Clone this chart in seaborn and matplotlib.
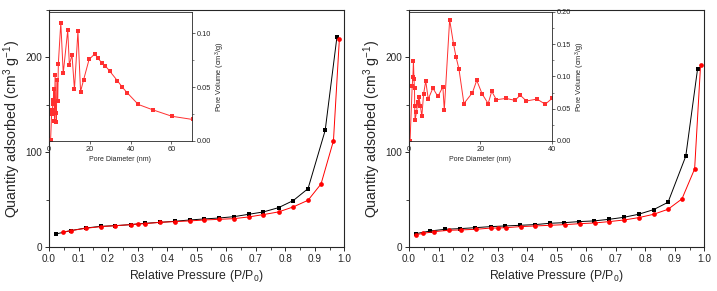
import matplotlib
matplotlib.use("Agg")
import matplotlib.pyplot as plt
import seaborn as sns
from matplotlib.ticker import MultipleLocator, FormatStrFormatter

# left sample: isotherm
p_ads_a = [0.023, 0.074, 0.124, 0.175, 0.225, 0.276, 0.325, 0.375, 0.425, 0.476,
           0.526, 0.576, 0.626, 0.676, 0.726, 0.777, 0.827, 0.877, 0.935, 0.975]
q_ads_a = [13.7, 17.3, 20.0, 21.8, 22.5, 23.6, 25.0, 26.0, 27.1, 28.5,
           29.6, 30.6, 32.0, 34.5, 37.0, 41.5, 49.0, 61.6, 123.0, 222.0]
p_des_a = [0.048, 0.074, 0.124, 0.175, 0.225, 0.276, 0.300, 0.325, 0.375, 0.425,
           0.476, 0.526, 0.576, 0.626, 0.676, 0.726, 0.777, 0.827, 0.877, 0.921,
           0.963, 0.983]
q_des_a = [15.8, 17.3, 19.7, 21.5, 22.5, 23.6, 24.3, 24.6, 26.0, 26.8,
           27.5, 28.5, 29.2, 29.9, 31.7, 34.2, 37.0, 42.3, 49.3, 66.5,
           112.0, 219.0]

# left sample: pore size distribution
d_a = [0.8, 1.3, 1.6, 1.9, 2.1, 2.5, 2.7, 3.0, 3.3, 3.6, 3.9, 4.3, 4.6,
       5.8, 7.0, 9.2, 10.0, 11.3, 12.5, 14.2, 15.5, 17.0, 19.7, 22.5, 24.0,
       25.8, 27.6, 29.8, 33.6, 36.0, 38.3, 43.8, 50.9, 60.3, 70.5]
v_a = [0.001, 0.025, 0.029, 0.034, 0.038, 0.048, 0.019, 0.061, 0.026, 0.018,
       0.057, 0.037, 0.072, 0.110, 0.063, 0.103, 0.071, 0.080, 0.048, 0.102,
       0.046, 0.057, 0.076, 0.081, 0.077, 0.073, 0.070, 0.065, 0.056, 0.050,
       0.045, 0.034, 0.029, 0.023, 0.020]

# right sample: isotherm
p_ads_b = [0.024, 0.072, 0.123, 0.174, 0.225, 0.276, 0.326, 0.376, 0.426, 0.476,
           0.526, 0.576, 0.626, 0.677, 0.727, 0.777, 0.828, 0.877, 0.937, 0.977]
q_ads_b = [14.1, 16.9, 18.7, 19.4, 20.4, 21.5, 22.2, 22.9, 23.6, 25.0,
           25.7, 26.8, 27.5, 29.2, 31.3, 34.5, 39.4, 47.2, 95.8, 188.0]
p_des_b = [0.024, 0.049, 0.085, 0.134, 0.176, 0.227, 0.278, 0.300, 0.328, 0.378,
           0.428, 0.478, 0.528, 0.578, 0.630, 0.678, 0.728, 0.778, 0.828, 0.877,
           0.924, 0.967, 0.987]
q_des_b = [13.0, 14.4, 16.2, 17.6, 18.0, 18.7, 20.0, 20.0, 20.4, 21.5,
           22.2, 22.9, 23.6, 24.6, 25.4, 26.8, 28.5, 31.0, 34.5, 39.8,
           50.7, 82.4, 191.5]

# right sample: pore size distribution
d_b = [0.3, 0.9, 1.1, 1.25, 1.4, 1.55, 1.6, 1.7, 2.1, 2.5, 2.8, 3.2, 3.6,
       4.1, 4.7, 5.4, 6.7, 8.1, 9.5, 9.9, 11.4, 12.5, 13.2, 14.0, 15.4,
       17.8, 19.0, 20.5, 22.2, 23.2, 24.5, 27.2, 29.7, 31.2, 32.9, 35.9,
       38.2, 40.1]
v_b = [0.0, 0.085, 0.099, 0.124, 0.096, 0.082, 0.055, 0.032, 0.045, 0.061,
       0.068, 0.055, 0.038, 0.073, 0.093, 0.065, 0.082, 0.069, 0.084, 0.048,
       0.188, 0.150, 0.130, 0.112, 0.058, 0.075, 0.094, 0.073, 0.058, 0.077,
       0.064, 0.066, 0.063, 0.071, 0.062, 0.065, 0.057, 0.066]

sns.set_style("ticks")
plt.rcParams["font.family"] = ["Liberation Sans", "DejaVu Sans"]
plt.rcParams["mathtext.fontset"] = "custom"
plt.rcParams["mathtext.rm"] = "Liberation Sans"
plt.rcParams["mathtext.it"] = "Liberation Sans"

fig = plt.figure(figsize=(7.17, 2.91), dpi=100)

panels = [
    (p_ads_a, q_ads_a, p_des_a, q_des_a, d_a, v_a, 0.0683, 70, 0.12, [0, 20, 40, 60], 0.05),
    (p_ads_b, q_ads_b, p_des_b, q_des_b, d_b, v_b, 0.5704, 40, 0.20, [0, 20, 40], 0.05),
]

for pa, qa, pd_, qd, d, v, left, dmax, vmax, dticks, vstep in panels:
    ax = fig.add_axes([left, 0.1512, 0.412, 0.8144])
    sns.lineplot(x=pa, y=qa, ax=ax, color="black", marker="s", markersize=3.2,
                 markeredgewidth=0, linewidth=0.7, estimator=None, sort=False)
    sns.lineplot(x=pd_, y=qd, ax=ax, color="#ff0000", marker="o", markersize=3.4,
                 markeredgewidth=0, linewidth=0.7, estimator=None, sort=False)
    ax.set_xlim(0, 1.0)
    ax.set_ylim(0, 250)
    ax.xaxis.set_major_locator(MultipleLocator(0.1))
    ax.xaxis.set_minor_locator(MultipleLocator(0.05))
    ax.yaxis.set_major_locator(MultipleLocator(100))
    ax.yaxis.set_minor_locator(MultipleLocator(50))
    ax.tick_params(axis="both", which="major", labelsize=7.2, length=3, width=0.7, pad=2)
    ax.tick_params(axis="both", which="minor", length=2, width=0.6)
    ax.set_xlabel("Relative Pressure (P/P$_0$)", fontsize=8.8, labelpad=3)
    ax.set_ylabel("Quantity adsorbed (cm$^3$ g$^{-1}$)", fontsize=10.2, labelpad=1.5)
    for s in ax.spines.values():
        s.set_linewidth(0.8)
        s.set_visible(True)

    ins = fig.add_axes([left, 0.5155, 0.199, 0.4433])
    sns.lineplot(x=d, y=v, ax=ins, color="#ff3030", marker="s", markersize=2.2,
                 markeredgewidth=0, linewidth=0.7, estimator=None, sort=False)
    ins.set_xlim(0, dmax)
    ins.set_ylim(0, vmax)
    ins.set_xticks(dticks)
    ins.yaxis.set_major_locator(MultipleLocator(vstep))
    ins.yaxis.set_minor_locator(MultipleLocator(vstep / 2))
    ins.yaxis.set_major_formatter(FormatStrFormatter("%.2f"))
    ins.yaxis.tick_right()
    ins.yaxis.set_label_position("right")
    ins.tick_params(axis="both", which="major", labelsize=5.3, length=2, width=0.5, pad=1.5)
    ins.tick_params(axis="y", which="minor", length=1.3, width=0.4)
    ins.set_xlabel("Pore Diameter (nm)", fontsize=5.0, labelpad=2)
    ins.set_ylabel("Pore Volume (cm$^3$/g)", fontsize=5.3, labelpad=2)
    ins.patch.set_alpha(0)
    for s in ins.spines.values():
        s.set_linewidth(0.6)
        s.set_visible(True)

fig.savefig("out.png", dpi=100)
